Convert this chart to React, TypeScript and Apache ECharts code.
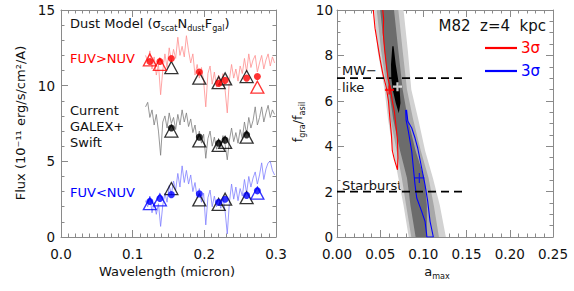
import { useEffect, useRef } from "react";
import * as echarts from "echarts";

// ---------- Left panel data ----------
const specWave = [0.118, 0.121, 0.124, 0.127, 0.130, 0.133, 0.136, 0.139, 0.142, 0.145, 0.148, 0.151, 0.154, 0.157, 0.160, 0.163, 0.166, 0.169, 0.172, 0.175, 0.178, 0.181, 0.184, 0.187, 0.190, 0.193, 0.196, 0.199, 0.202, 0.205, 0.208, 0.211, 0.214, 0.217, 0.220, 0.223, 0.226, 0.229, 0.232, 0.235, 0.238, 0.241, 0.244, 0.247, 0.250, 0.253, 0.256, 0.259, 0.262, 0.265, 0.268, 0.271, 0.274, 0.277, 0.280, 0.283, 0.286, 0.289, 0.292, 0.295, 0.298];
const specRed = [12.0, 11.6, 12.3, 11.1, 11.9, 10.7, 11.4, 9.4, 11.0, 12.1, 11.2, 12.5, 11.6, 12.4, 11.8, 13.2, 12.0, 12.6, 11.9, 13.3, 12.3, 11.5, 12.1, 10.7, 11.4, 10.5, 11.2, 10.3, 8.6, 10.8, 11.3, 10.1, 10.9, 9.9, 10.7, 10.0, 10.8, 9.7, 8.2, 10.4, 11.4, 10.5, 11.1, 10.3, 11.3, 10.8, 11.8, 10.9, 12.1, 11.2, 11.7, 12.0, 10.9, 11.5, 12.0, 11.1, 11.7, 12.1, 11.3, 11.9, 11.5];
const specBlack = [8.6, 8.9, 7.9, 8.4, 7.4, 8.1, 7.0, 5.4, 7.6, 8.0, 7.2, 8.2, 7.5, 7.9, 7.1, 8.1, 7.4, 8.4, 7.6, 8.2, 7.3, 7.8, 6.9, 7.4, 6.4, 7.0, 6.2, 6.8, 5.2, 6.5, 7.0, 6.0, 6.6, 5.8, 6.4, 5.9, 6.7, 6.1, 5.1, 6.4, 7.2, 6.3, 6.9, 6.2, 7.1, 6.5, 7.6, 6.8, 7.9, 7.2, 7.7, 8.6, 7.4, 7.9, 8.6, 7.6, 8.2, 8.7, 7.9, 8.4, 8.1];
const specBlue = [2.4, 2.0, 2.7, 1.6, 2.3, 1.5, 2.2, 0.7, 2.1, 2.9, 2.3, 3.4, 2.8, 3.7, 3.1, 4.2, 3.3, 4.7, 3.6, 4.4, 3.5, 4.1, 3.0, 3.6, 2.6, 3.2, 2.3, 2.9, 0.8, 2.6, 3.1, 2.0, 2.7, 2.0, 2.5, 1.9, 2.6, 1.7, 0.2, 2.3, 3.5, 2.5, 3.3, 2.4, 3.2, 2.7, 3.8, 2.9, 4.0, 3.3, 3.9, 4.3, 3.5, 4.1, 4.9, 3.8, 4.5, 4.9, 5.0, 4.4, 4.1];

const filterWave = [0.124, 0.138, 0.154, 0.193, 0.220, 0.229, 0.259, 0.274];
const currentWave = [0.154, 0.193, 0.220, 0.229, 0.259];
const futureWave = [0.124, 0.138, 0.274];

const redModel = [11.6, 11.6, 11.8, 10.9, 10.15, 10.35, 10.5, 10.6];
const redObs = [11.2, 10.5, 10.2, 10.45, 10.6];
const redFuture = [11.7, 11.4, 9.9];
const blackModel = [7.2, 6.6, 6.2, 6.4, 6.75];
const blackObs = [7.0, 6.35, 6.05, 6.25, 6.6];
const blueModel = [2.35, 2.55, 2.8, 2.85, 2.3, 2.5, 2.75, 3.05];
const blueObs = [3.2, 2.45, 2.15, 2.5, 2.6];
const blueFuture = [2.2, 2.45, 2.9];

// ---------- Right panel data ([a_max, f_gra/f_asil]) ----------
const lightBand = [[0.043, 10], [0.047, 8.2], [0.055, 6.5], [0.059, 5.2], [0.065, 3.8], [0.071, 2.6], [0.077, 1.4], [0.083, 0], [0.126, 0], [0.119, 1.4], [0.111, 2.6], [0.102, 3.8], [0.094, 5.2], [0.086, 6.5], [0.082, 8.2], [0.077, 10]];
const midBand = [[0.046, 10], [0.051, 8.2], [0.058, 6.5], [0.062, 5.2], [0.069, 3.8], [0.075, 2.6], [0.080, 1.4], [0.086, 0], [0.118, 0], [0.112, 1.4], [0.106, 2.6], [0.097, 3.8], [0.088, 5.2], [0.081, 6.5], [0.076, 8.2], [0.071, 10]];
const darkBand = [[0.050, 10], [0.055, 8.2], [0.060, 6.5], [0.065, 5.2], [0.073, 3.8], [0.081, 2.6], [0.085, 1.4], [0.091, 0], [0.104, 0], [0.104, 1.4], [0.101, 2.6], [0.091, 3.8], [0.082, 5.2], [0.076, 6.5], [0.071, 8.2], [0.066, 10]];
const blackCore = [[0.064, 8.4], [0.0625, 7.6], [0.0628, 7.0], [0.065, 6.4], [0.068, 5.9], [0.0715, 5.45], [0.0735, 5.9], [0.0725, 6.5], [0.0705, 7.0], [0.068, 7.6], [0.0655, 8.4]];
const redContour = [[0.042, 10], [0.044, 9.2], [0.047, 8.5], [0.050, 7.8], [0.053, 7.2], [0.057, 6.6], [0.0595, 6.0], [0.061, 5.3], [0.063, 4.5], [0.064, 3.8], [0.0665, 3.4], [0.070, 2.96], [0.0705, 3.5], [0.070, 4.3], [0.068, 5.0], [0.0665, 5.5], [0.064, 6.0], [0.062, 6.5], [0.059, 7.0], [0.057, 7.6], [0.055, 8.3], [0.0535, 9.0], [0.054, 9.6], [0.053, 10]];
const blueContour = [[0.0795, 5.6], [0.080, 5.15], [0.0826, 4.66], [0.0865, 3.77], [0.0884, 3.04], [0.0903, 2.3], [0.0923, 1.72], [0.098, 1.13], [0.1019, 0.69], [0.1038, 0.1], [0.104, 0], [0.1115, 0], [0.1077, 0.69], [0.105, 1.57], [0.1019, 2.3], [0.098, 3.04], [0.0934, 3.92], [0.0903, 4.36], [0.0865, 4.8], [0.082, 5.1], [0.0805, 5.6]];
const redBest = [0.0607, 6.48];
const jointBest = [0.070, 6.62];
const blueBest = [0.0953, 2.6];
const mwLine = [[0, 7], [0.15, 7]];
const sbLine = [[0, 2], [0.15, 2]];

const FONT = "DejaVu Sans";
const PLUS = "path://M3,0H5V3H8V5H5V8H3V5H0V3H3Z";

function pairs(xs: number[], ys: number[]) {
  return xs.map((x, i) => [x, ys[i]]);
}

export default function App() {
  const ref = useRef<HTMLDivElement>(null);
  useEffect(() => {
    if (!ref.current) return;
    const chart = echarts.init(ref.current, null, { renderer: "svg" });
    const axisColor = "#8a8a8a";
    const mkX = (grid: number, pos: "bottom" | "top", min: number, max: number, interval: number, split: number, digits: number) => ({
      gridIndex: grid,
      type: "value",
      position: pos,
      min,
      max,
      interval,
      axisLine: { show: true, onZero: false, lineStyle: { color: axisColor, width: 1 } },
      axisTick: { show: true, inside: true, length: 7, lineStyle: { color: axisColor } },
      minorTick: { show: true, splitNumber: split, length: 3.5, lineStyle: { color: axisColor } },
      splitLine: { show: false },
      axisLabel: {
        show: pos === "bottom",
        margin: 10,
        fontFamily: FONT,
        fontSize: 13.5,
        color: "#111",
        formatter: (v: number) => v.toFixed(digits),
      },
    });
    const mkY = (grid: number, pos: "left" | "right", min: number, max: number, interval: number, split: number, margin: number) => ({
      gridIndex: grid,
      type: "value",
      position: pos,
      min,
      max,
      interval,
      axisLine: { show: true, onZero: false, lineStyle: { color: axisColor, width: 1 } },
      axisTick: { show: true, inside: true, length: 7, lineStyle: { color: axisColor } },
      minorTick: { show: true, splitNumber: split, length: 3.5, lineStyle: { color: axisColor } },
      splitLine: { show: false },
      axisLabel: {
        show: pos === "left",
        margin,
        fontFamily: FONT,
        fontSize: 13.5,
        color: "#111",
        formatter: (v: number) => String(Math.round(v)),
      },
    });

    const polygons = [
      { pts: lightBand, color: "#d2d2d2" },
      { pts: midBand, color: "#a8a8a8" },
      { pts: darkBand, color: "#6c6c6c" },
      { pts: blackCore, color: "#000000" },
    ];

    const tri = (data: number[][], color: string) => ({
      type: "scatter",
      xAxisIndex: 0,
      yAxisIndex: 0,
      symbol: "triangle",
      symbolSize: [13, 12],
      data,
      itemStyle: { color: "rgba(0,0,0,0)", borderColor: color, borderWidth: 1.3 },
      z: 4,
      silent: true,
    });
    const dot = (data: number[][], color: string) => ({
      type: "scatter",
      xAxisIndex: 0,
      yAxisIndex: 0,
      symbol: "circle",
      symbolSize: 7,
      data,
      itemStyle: { color },
      z: 5,
      silent: true,
    });
    const spec = (vals: number[], color: string) => ({
      type: "line",
      xAxisIndex: 0,
      yAxisIndex: 0,
      showSymbol: false,
      data: pairs(specWave, vals),
      lineStyle: { color, width: 0.8 },
      z: 2,
      silent: true,
    });
    const rline = (data: number[][], color: string, width: number, dashed: boolean, z: number) => ({
      type: "line",
      xAxisIndex: 2,
      yAxisIndex: 2,
      showSymbol: false,
      data,
      lineStyle: { color, width, type: dashed ? [8, 5] : "solid" },
      z,
      silent: true,
    });

    const txt = (x: number, y: number, text: string, extra: any = {}) => ({
      type: "text",
      x,
      y,
      style: {
        text,
        fontFamily: FONT,
        fontSize: 13,
        fill: "#111",
        textAlign: "left",
        textVerticalAlign: "middle",
        ...extra,
      },
    });
    const subRich = (color: string, size: number) => ({
      n: { fontFamily: FONT, fontSize: size, fill: color, color, lineHeight: size + 6 },
      s: { fontFamily: FONT, fontSize: size * 0.62, fill: color, color, verticalAlign: "bottom", lineHeight: size * 0.62 },
    });

    chart.setOption({
      animation: false,
      backgroundColor: "#ffffff",
      grid: [
        { left: 61, top: 10, width: 215, height: 227 },
        { left: 337, top: 10, width: 216, height: 227 },
      ],
      xAxis: [
        mkX(0, "bottom", 0, 0.3, 0.1, 10, 1),
        mkX(0, "top", 0, 0.3, 0.1, 10, 1),
        mkX(1, "bottom", 0, 0.25, 0.05, 5, 2),
        mkX(1, "top", 0, 0.25, 0.05, 5, 2),
      ],
      yAxis: [
        mkY(0, "left", 0, 15, 5, 5, 6),
        mkY(0, "right", 0, 15, 5, 5, 6),
        mkY(1, "left", 0, 10, 2, 4, 4),
        mkY(1, "right", 0, 10, 2, 4, 4),
      ],
      series: [
        spec(specRed, "#ff8f8f"),
        spec(specBlack, "#7d7d7d"),
        spec(specBlue, "#7f7fff"),
        tri(pairs(currentWave, redObs), "#000"),
        tri(pairs(futureWave, redFuture), "#ff0000"),
        dot(pairs(filterWave, redModel), "#ff0000"),
        tri(pairs(currentWave, blackObs), "#000"),
        dot(pairs(currentWave, blackModel), "#000"),
        dot(pairs(filterWave, blueModel), "#0000ff"),
        tri(pairs(currentWave, blueObs), "#000"),
        tri(pairs(futureWave, blueFuture), "#0000ff"),
        {
          type: "custom",
          xAxisIndex: 2,
          yAxisIndex: 2,
          data: polygons.map((_, i) => [i]),
          clip: true,
          silent: true,
          z: 1,
          renderItem: (params: any, api: any) => {
            const p = polygons[params.dataIndex];
            return {
              type: "polygon",
              shape: { points: p.pts.map((pt) => api.coord(pt)) },
              style: { fill: p.color, stroke: "none" },
            };
          },
        },
        rline(redContour, "#ff0000", 1.1, false, 3),
        rline(blueContour, "#0000ff", 1.1, false, 3),
        rline(mwLine, "#000", 1.8, true, 4),
        rline(sbLine, "#000", 1.8, true, 4),
        {
          type: "scatter",
          xAxisIndex: 2,
          yAxisIndex: 2,
          symbol: PLUS,
          symbolSize: 9,
          data: [redBest],
          itemStyle: { color: "#ff0000" },
          z: 6,
          silent: true,
        },
        {
          type: "scatter",
          xAxisIndex: 2,
          yAxisIndex: 2,
          symbol: PLUS,
          symbolSize: 9,
          data: [jointBest],
          itemStyle: { color: "#ffffff" },
          z: 6,
          silent: true,
        },
        {
          type: "scatter",
          xAxisIndex: 2,
          yAxisIndex: 2,
          symbol: "path://M3.5,0H4.5V3.5H8V4.5H4.5V8H3.5V4.5H0V3.5H3.5Z",
          symbolSize: 10,
          data: [blueBest],
          itemStyle: { color: "#0000ff" },
          z: 6,
          silent: true,
        },
      ],
      graphic: [
        // Left panel texts
        txt(70, 23, "{n|Dust Model (σ}{s|scat}{n|N}{s|dust}{n|F}{s|gal}{n|)}", { rich: subRich("#111", 13) }),
        txt(70, 58, "FUV>NUV", { fill: "#ff0000" }),
        txt(70, 110, "Current", {}),
        txt(70, 126, "GALEX+", {}),
        txt(70, 142, "Swift", {}),
        txt(70, 192, "FUV<NUV", { fill: "#0000ff" }),
        // axis titles
        txt(167, 271, "Wavelength (micron)", { textAlign: "center" }),
        {
          type: "text",
          x: 20,
          y: 123,
          rotation: Math.PI / 2,
          style: {
            text: "Flux (10⁻¹¹ erg/s/cm²/A)",
            fontFamily: FONT,
            fontSize: 13,
            fill: "#111",
            textAlign: "center",
            textVerticalAlign: "middle",
          },
        },
        {
          type: "text",
          x: 297,
          y: 122,
          rotation: Math.PI / 2,
          style: {
            text: "{n|f}{s|gra}{n|/f}{s|asil}",
            rich: subRich("#111", 13),
            fontFamily: FONT,
            fontSize: 13,
            fill: "#111",
            textAlign: "center",
            textVerticalAlign: "middle",
          },
        },
        txt(437, 271, "{n|a}{s|max}", { textAlign: "center", rich: subRich("#111", 13) }),
        // Right panel texts
        txt(546, 26, "M82  z=4  kpc", { textAlign: "right", fontSize: 15 }),
        { type: "line", shape: { x1: 485, y1: 48, x2: 517, y2: 48 }, style: { stroke: "#ff0000", lineWidth: 2.2 } },
        txt(521, 48, "3σ", { fill: "#ff0000", fontSize: 15 }),
        { type: "line", shape: { x1: 485, y1: 71, x2: 517, y2: 71 }, style: { stroke: "#0000ff", lineWidth: 2.2 } },
        txt(521, 71, "3σ", { fill: "#0000ff", fontSize: 15 }),
        txt(342, 70, "MW−", {}),
        txt(342, 87, "like", {}),
        txt(342, 185, "Starburst", {}),
      ],
    });
    return () => chart.dispose();
  }, []);
  return (
    <div
      ref={ref}
      style={{ position: "fixed", left: 0, top: 0, width: 574, height: 291, background: "#fff" }}
    />
  );
}
